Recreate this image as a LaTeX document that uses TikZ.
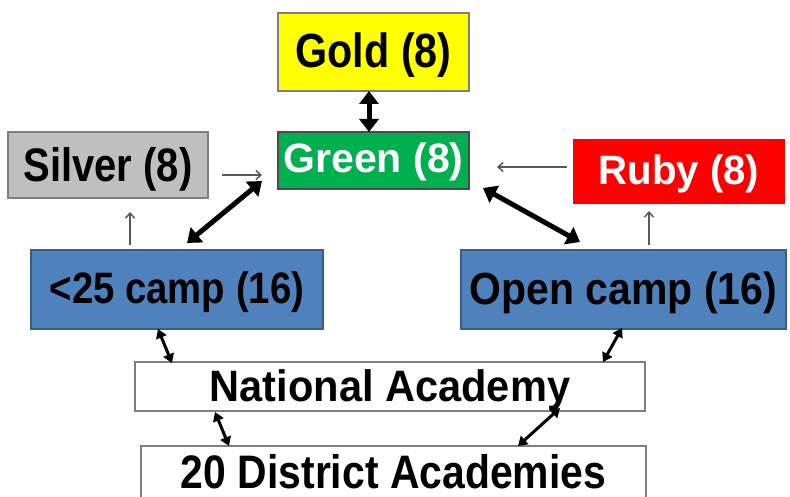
\documentclass[tikz,border=0pt]{standalone}
\usepackage{fontspec}
\setmainfont{Liberation Sans}
\usetikzlibrary{arrows.meta}
\definecolor{goldc}{HTML}{FFFF00}
\definecolor{greenc}{HTML}{00B050}
\definecolor{silverc}{HTML}{BFBFBF}
\definecolor{rubyc}{HTML}{FF0000}
\definecolor{bluec}{HTML}{4F81BD}
\definecolor{blueb}{HTML}{385D8A}
\definecolor{greyb}{HTML}{7F7F7F}
\definecolor{thinc}{HTML}{595959}
\tikzset{
  box/.style={draw=greyb, line width=1.2pt, inner sep=0pt, align=center, font=\bfseries},
  bigarrow/.style={line width=5pt, {Triangle[length=13pt,width=19pt]}-{Triangle[length=13pt,width=19pt]}},
  midarrow/.style={line width=3pt, {Triangle[length=9pt,width=11pt]}-{Triangle[length=9pt,width=11pt]}},
  thinarrow/.style={draw=thinc, line width=1.5pt, -{Straight Barb[length=5pt,width=9pt]}}
}
% size, xscale, colour, lowering, text
\newcommand{\bt}[5]{\raisebox{-#4pt}[\height][\depth]{\scalebox{#2}[1]{\fontsize{#1}{#1}\selectfont\bfseries\color{#3}#5}}}
\begin{document}
\begin{tikzpicture}[x=1pt,y=-1pt]
\clip (0,0) rectangle (790,497);
\useasboundingbox (0,0) rectangle (790,497);
\fill[white] (0,0) rectangle (790,497);
\node[box, fill=goldc, minimum width=191pt, minimum height=78pt] (gold) at (373.5,52) {\bt{48}{0.86}{black}{3}{Gold (8)}};
\node[box, fill=greenc, draw=black!70, minimum width=191pt, minimum height=57pt] (green) at (373.5,160.5) {\bt{41}{1}{white}{1.5}{Green (8)}};
\node[box, fill=silverc, minimum width=200pt, minimum height=66pt] (silver) at (108,165) {\bt{47}{0.85}{black}{4.5}{Silver (8)}};
\node[box, fill=rubyc, draw=none, minimum width=212pt, minimum height=65pt] (ruby) at (679,171.5) {\bt{41}{0.98}{white}{2.5}{Ruby (8)}};
\node[box, fill=bluec, draw=blueb, minimum width=292pt, minimum height=79pt] (camp) at (177,289.5) {\bt{44}{0.87}{black}{2.5}{<25 camp (16)}};
\node[box, fill=bluec, draw=blueb, minimum width=325pt, minimum height=79pt] (open) at (623.5,289.5) {\bt{45}{0.91}{black}{3}{Open camp (16)}};
\node[box, fill=white, minimum width=510pt, minimum height=49pt] (nat) at (390,386.5) {\bt{44}{0.945}{black}{4}{National Academy}};
\node[box, fill=white, draw=none, minimum width=503pt, minimum height=50pt] (dist) at (393.5,472) {\bt{47}{0.87}{black}{0}{20 District Academies}};
\draw[greyb, line width=2pt] ([yshift=-4pt]dist.south west) -- (dist.north west) -- (dist.north east) -- ([yshift=-4pt]dist.south east);
% connector end points
\coordinate (gs) at (369,91);
\coordinate (gn) at (369,132);
\coordinate (sg1) at (222,175);
\coordinate (sg2) at (262,175);
\coordinate (rg1) at (567,167);
\coordinate (rg2) at (497,167);
\coordinate (cs1) at (130,245);
\coordinate (cs2) at (130,212);
\coordinate (or1) at (649,245);
\coordinate (or2) at (649,211);
\coordinate (cg1) at (187,243);
\coordinate (cg2) at (262,181);
\coordinate (go1) at (483,188);
\coordinate (go2) at (580,242);
\coordinate (cn1) at (158,329);
\coordinate (cn2) at (172,363);
\coordinate (on1) at (622,328);
\coordinate (on2) at (603,362);
\coordinate (nd1) at (215,412);
\coordinate (nd2) at (229,446);
\coordinate (nd3) at (560,408);
\coordinate (nd4) at (518,446);
\draw[bigarrow] (gs) -- (gn);
\draw[bigarrow] (cg1) -- (cg2);
\draw[bigarrow] (go1) -- (go2);
\draw[thinarrow] (sg1) -- (sg2);
\draw[thinarrow] (rg1) -- (rg2);
\draw[thinarrow] (cs1) -- (cs2);
\draw[thinarrow] (or1) -- (or2);
\draw[midarrow] (cn1) -- (cn2);
\draw[midarrow] (on1) -- (on2);
\draw[midarrow] (nd1) -- (nd2);
\draw[midarrow] (nd3) -- (nd4);
\end{tikzpicture}
\end{document}
